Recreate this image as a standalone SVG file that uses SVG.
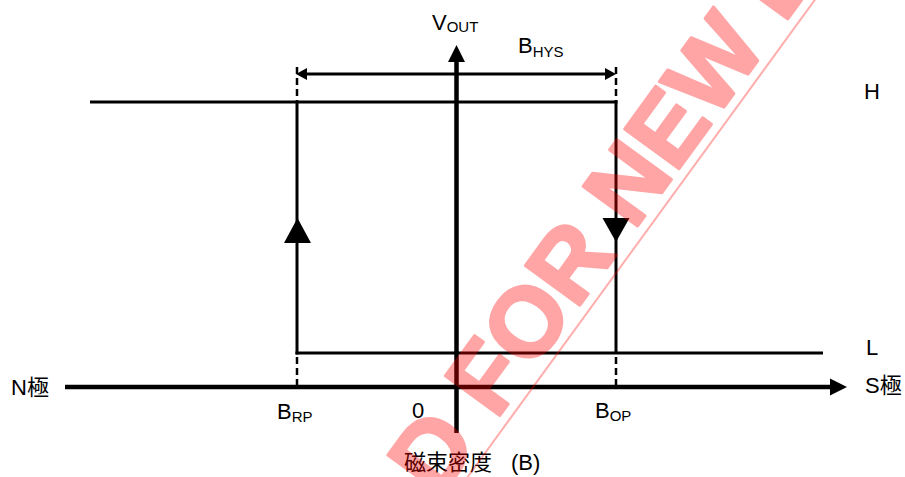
<svg xmlns="http://www.w3.org/2000/svg" width="905" height="477" viewBox="0 0 905 477">
<style>
  .ln { stroke: #000; fill: none; }
  .ax { stroke-width: 4.5; }
  .tr { stroke-width: 3; }
  .ds { stroke-width: 2.5; stroke-dasharray: 7 4; }
  .hd { fill: #000; stroke: none; }
  .lb { font-family: "Liberation Sans", Arial, "Noto Sans CJK JP", sans-serif; font-size: 22px; fill: #000; }
  .sb { font-size: 15px; }
  .wm { font-family: "Liberation Sans", Arial, sans-serif; font-weight: bold; font-size: 98px; fill: #ff0000; stroke: #ff0000; stroke-width: 3; stroke-linejoin: round; }
</style>
<rect width="905" height="477" fill="#fff"/>
<g id="connectors">
  <g id="x-axis">
    <line class="ln ax" x1="65" y1="387" x2="832" y2="387"/>
    <polygon class="hd" points="830,378.5 847,387 830,395.5"/>
  </g>
  <g id="y-axis">
    <line class="ln ax" x1="456.5" y1="433" x2="456.5" y2="60"/>
    <polygon class="hd" points="448,62 456.5,45 465,62"/>
  </g>
  <g id="high-level">
    <line class="ln tr" x1="90" y1="102" x2="617.5" y2="102"/>
  </g>
  <g id="low-level">
    <line class="ln tr" x1="295.5" y1="353" x2="823" y2="353"/>
  </g>
  <g id="release-edge">
    <line class="ln tr" x1="297" y1="101" x2="297" y2="354.5"/>
    <polygon class="hd" points="284,243 297.5,218 311,243"/>
  </g>
  <g id="operate-edge">
    <line class="ln tr" x1="616" y1="100.5" x2="616" y2="354"/>
    <polygon class="hd" points="602.5,218 629.5,218 616,242"/>
  </g>
  <g id="dashes">
    <line class="ln ds" x1="297" y1="67" x2="297" y2="101"/>
    <line class="ln ds" x1="616" y1="67" x2="616" y2="101"/>
    <line class="ln ds" x1="297" y1="357" x2="297" y2="385"/>
    <line class="ln ds" x1="616" y1="357" x2="616" y2="385"/>
  </g>
  <g id="hysteresis">
    <line class="ln tr" x1="305" y1="74" x2="607" y2="74"/>
    <polygon class="hd" points="296,74 307,68 307,80"/>
    <polygon class="hd" points="616,74 605,68 605,80"/>
  </g>
</g>
<g id="labels">
  <text id="vout" class="lb" x="432" y="30">V<tspan class="sb" dy="2">OUT</tspan></text>
  <text id="bhys" class="lb" x="518" y="53">B<tspan class="sb" dy="4">HYS</tspan></text>
  <text id="h" class="lb" x="864" y="99">H</text>
  <text id="l" class="lb" x="866" y="355">L</text>
  <text id="npole" class="lb" x="11" y="395">N極</text>
  <text id="spole" class="lb" x="865" y="393">S極</text>
  <text id="brp" class="lb" x="277" y="419">B<tspan class="sb" dy="3">RP</tspan></text>
  <text id="zero" class="lb" x="412" y="418">0</text>
  <text id="bop" class="lb" x="595" y="418">B<tspan class="sb" dy="3">OP</tspan></text>
  <text id="bfield" class="lb" x="404" y="470">磁束密度 <tspan x="511">(B)</tspan></text>
</g>
<g id="watermark" opacity="0.35">
  <line x1="440" y1="515" x2="830" y2="-21" stroke="#ff0000" stroke-opacity="0.9" stroke-width="2"/>
  <text class="wm" transform="translate(438.5,500) rotate(-54)" x="0" y="0">D FOR NEW D</text>
</g>
</svg>
